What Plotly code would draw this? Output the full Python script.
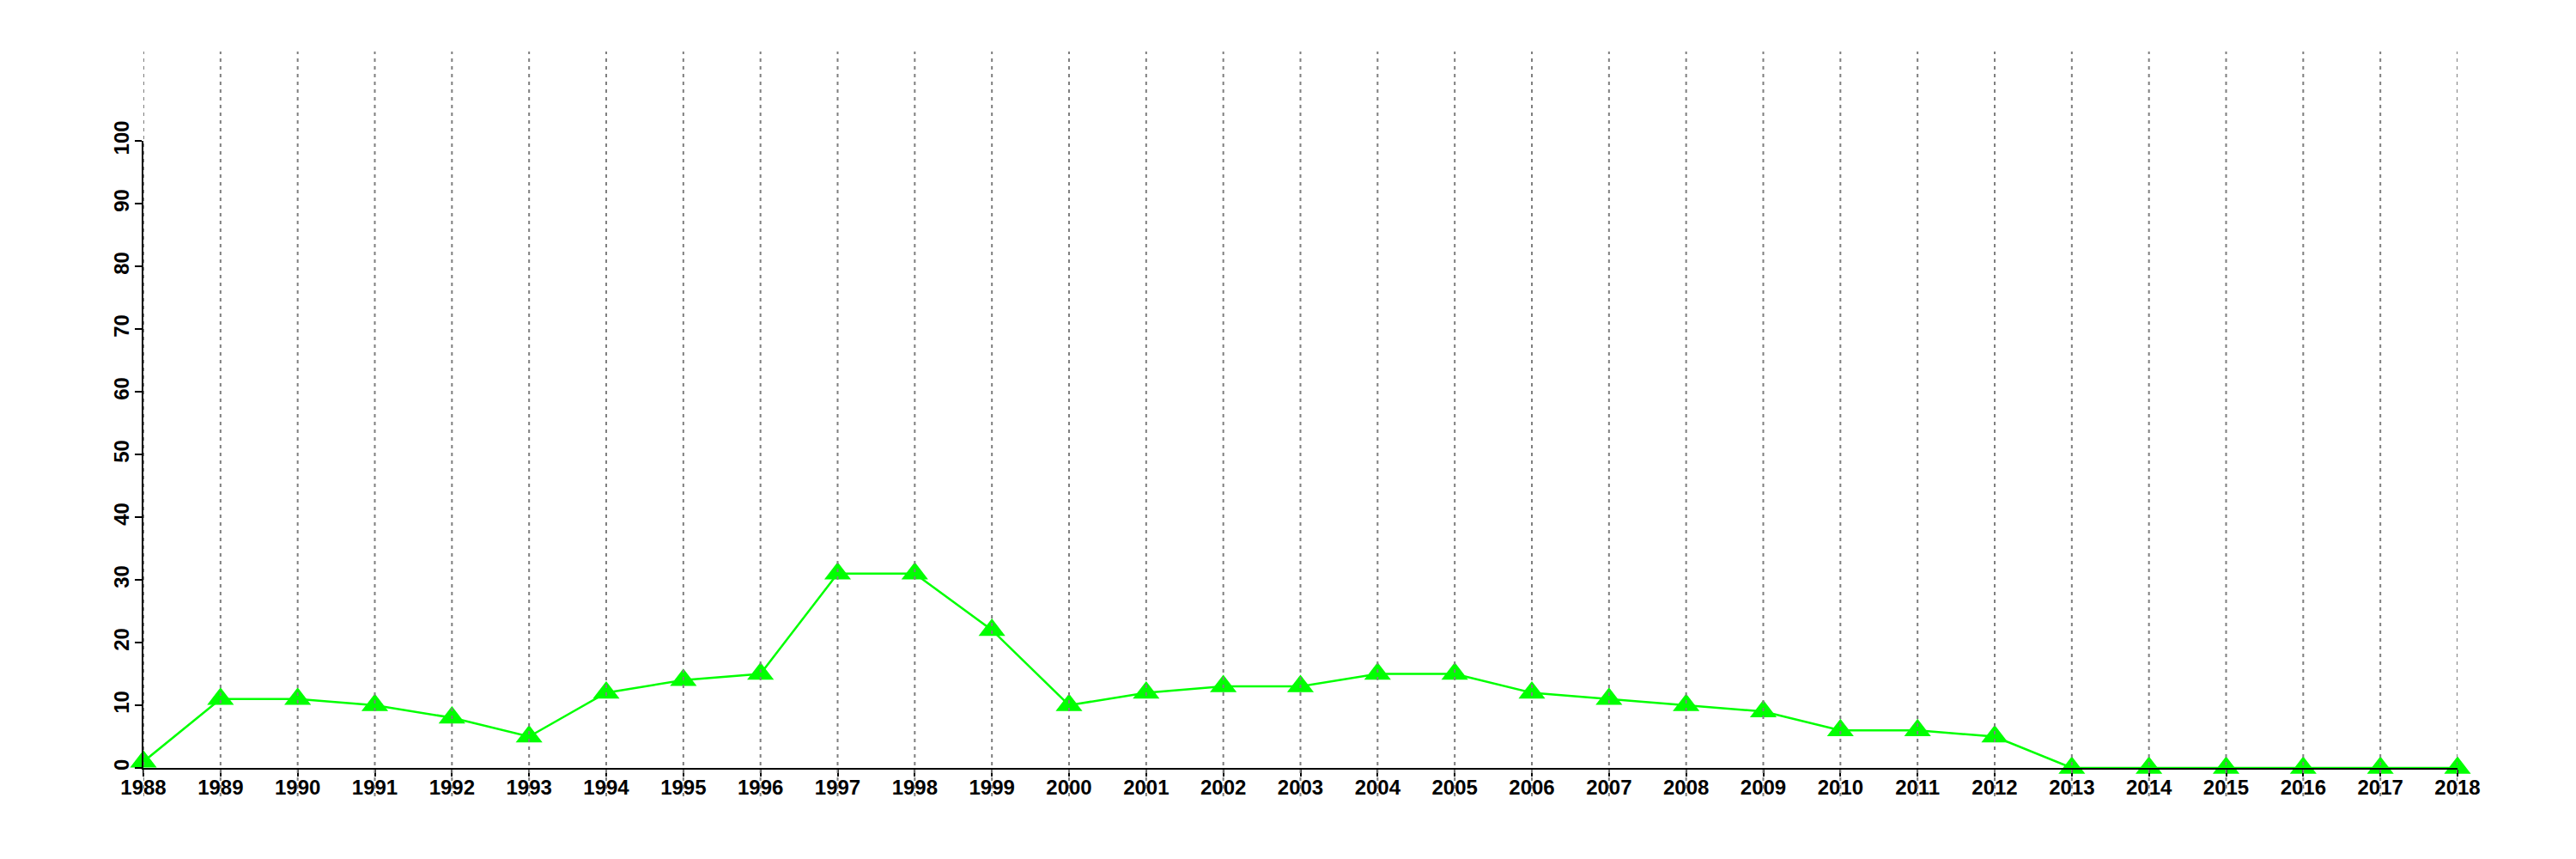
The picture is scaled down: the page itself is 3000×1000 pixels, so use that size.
import plotly.graph_objects as go

years = list(range(1988, 2019))
values = [1, 11, 11, 10, 8, 5, 12, 14, 15, 31, 31, 22, 10, 12, 13, 13, 15, 15,
          12, 11, 10, 9, 6, 6, 5, 0, 0, 0, 0, 0, 0]
y_ticks = list(range(0, 101, 10))

W, H = 3000, 1000
# page body has an 8px margin, so the figure is offset by 8px
ml, mr, mt, mb = 159, 146, 156, 114
plot_h = H - mt - mb

fig = go.Figure()
fig.add_trace(go.Scatter(
    x=years, y=values, mode="lines+markers",
    line=dict(color="#00ff00", width=2.5),
    marker=dict(symbol="triangle-up", size=27, color="#00ff00"),
    cliponaxis=False, showlegend=False,
))

# dotted vertical guide lines spanning beyond the plot area (like R abline)
y_lo = -33 / plot_h
y_hi = (894 - 60) / plot_h
for yr in years:
    fig.add_shape(type="line", xref="x", yref="paper", x0=yr, x1=yr,
                  y0=y_lo, y1=y_hi, layer="above",
                  line=dict(color="#7f7f7f", width=2, dash="4px,5px"))

font = dict(family="Liberation Sans, Arial, sans-serif", size=24,
            color="black", weight="bold")

fig.update_layout(
    width=W, height=H,
    margin=dict(l=ml, r=mr, t=mt, b=mb, pad=0, autoexpand=False),
    plot_bgcolor="white", paper_bgcolor="white",
    xaxis=dict(range=[years[0], years[-1]], tickmode="array", tickvals=years,
               ticktext=[str(y) for y in years], showgrid=False, zeroline=False,
               showline=True, linecolor="black", linewidth=2, automargin=False,
               ticks="outside", ticklen=8, tickwidth=2, tickcolor="black",
               ticklabelstandoff=-8, tickfont=font),
    yaxis=dict(range=[0, 100], tickmode="array", tickvals=y_ticks,
               ticktext=[str(v) for v in y_ticks], showgrid=False, zeroline=False,
               showline=True, linecolor="black", linewidth=2, automargin=False,
               ticks="outside", ticklen=8, tickwidth=2, tickcolor="black",
               ticklabelstandoff=-3, tickangle=-90, tickfont=font),
)

fig.write_html("out.html")
